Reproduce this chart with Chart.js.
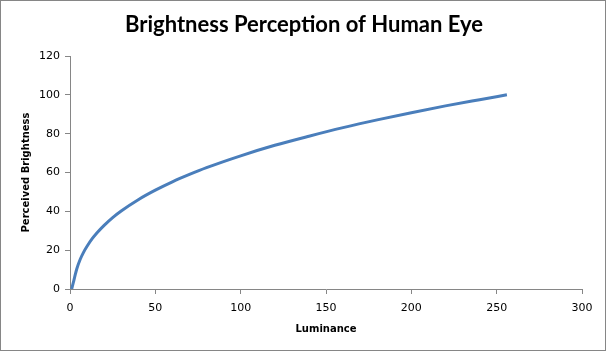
<!DOCTYPE html>
<html>
<head>
<meta charset="utf-8">
<script src="https://cdn.jsdelivr.net/npm/chart.js@4"></script>
<style>
  html, body { margin: 0; padding: 0; background: #fff; }
  #wrap { width: 608px; height: 352px; }
</style>
</head>
<body>
<div id="wrap"><canvas id="chart" width="608" height="352"></canvas></div>
<script>
// values
const luminance = [1, 2, 3, 4, 6, 8, 10, 13, 16, 20, 25, 30, 40, 50, 60, 70, 80, 100, 120, 140, 160, 180, 200, 220, 240, 256];
const brightness = [0, 3.5, 7.1, 10.4, 15.3, 19.0, 22.0, 25.9, 29.1, 32.8, 36.8, 40.2, 46.0, 50.9, 55.2, 59.0, 62.5, 68.6, 74.0, 78.7, 83.1, 87.1, 90.8, 94.3, 97.5, 100];
const xTicks = [0, 50, 100, 150, 200, 250, 300];
const yTicks = [0, 20, 40, 60, 80, 100, 120];
const chartTitle = "Brightness Perception of Human Eye";

const axisColor = "#868686";

// outer frame and the title, centred on the whole frame
const frame = {
  id: "frame",
  afterDraw(chart) {
    const ctx = chart.ctx;
    ctx.save();
    ctx.strokeStyle = "#868686";
    ctx.lineWidth = 1;
    ctx.strokeRect(0.5, 0.5, 605, 350);
    ctx.fillStyle = "#000";
    ctx.font = "bold 22px Lato";
    ctx.textAlign = "center";
    ctx.textBaseline = "alphabetic";
    ctx.fillText(chartTitle, 304, 32);
    ctx.restore();
  },
};

const points = luminance.map((x, i) => ({ x: x, y: brightness[i] }));

new Chart(document.getElementById("chart"), {
  type: "line",
  data: {
    datasets: [
      {
        data: points,
        borderColor: "#4a7ebb",
        borderWidth: 3,
        pointRadius: 0,
        cubicInterpolationMode: "monotone",
        fill: false,
      },
    ],
  },
  options: {
    responsive: false,
    animation: false,
    layout: { padding: { left: 0, right: 26, top: 56, bottom: 0 } },
    plugins: {
      legend: { display: false },
      tooltip: { enabled: false },
      title: { display: false },
    },
    scales: {
      x: {
        type: "linear",
        min: 0,
        max: 300,
        afterBuildTicks(s) {
          s.ticks = xTicks.map((v) => ({ value: v }));
        },
        afterFit(s) {
          s.height = 63;
        },
        border: { color: axisColor, width: 1 },
        grid: {
          drawOnChartArea: false,
          drawTicks: true,
          tickLength: 5,
          tickColor: axisColor,
        },
        ticks: {
          color: "#000",
          padding: 8,
          maxRotation: 0,
          font: { family: "DejaVu Sans", size: 11 },
        },
        title: {
          display: true,
          text: "Luminance",
          color: "#000",
          font: { family: "DejaVu Sans", size: 10, weight: "bold", lineHeight: 1.2 },
          padding: { top: 0, bottom: 17 },
        },
      },
      y: {
        min: 0,
        max: 120,
        afterBuildTicks(s) {
          s.ticks = yTicks.map((v) => ({ value: v }));
        },
        afterFit(s) {
          s.width = 70;
        },
        border: { color: axisColor, width: 1 },
        grid: {
          drawOnChartArea: false,
          drawTicks: true,
          tickLength: 5,
          tickColor: axisColor,
        },
        ticks: {
          color: "#000",
          padding: 5,
          font: { family: "DejaVu Sans", size: 11 },
        },
        title: {
          display: true,
          text: "Perceived Brightness",
          color: "#000",
          font: { family: "DejaVu Sans", size: 10, weight: "bold", lineHeight: 1.2 },
          padding: { top: 20 },
        },
      },
    },
  },
  plugins: [frame],
});
</script>
</body>
</html>
